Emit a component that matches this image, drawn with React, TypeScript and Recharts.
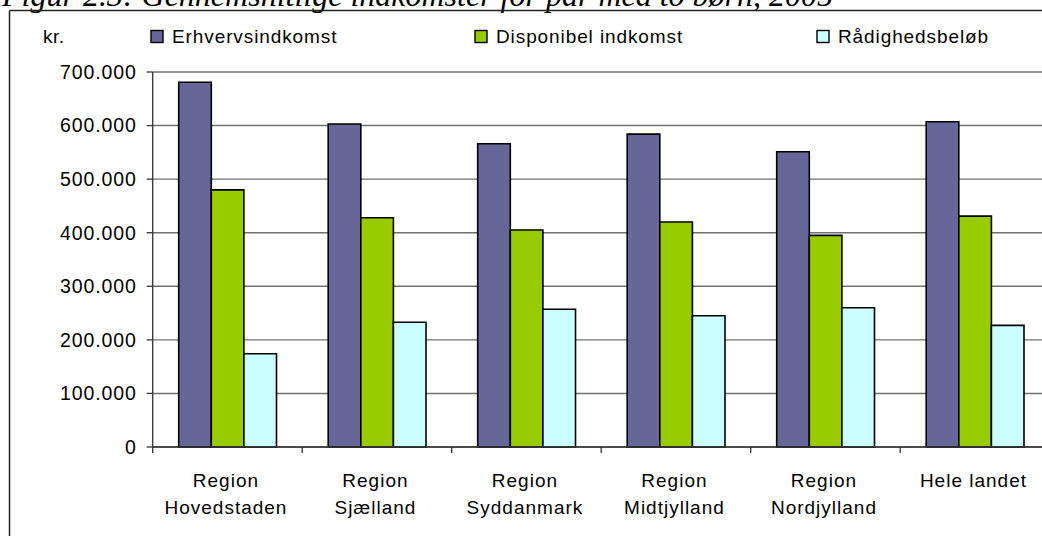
import React from 'react';
import { BarChart, Bar, XAxis, YAxis, CartesianGrid } from 'recharts';

// ── data ─────────────────────────────────────────────────────────────
const regions = [
  'Region Hovedstaden',
  'Region Sjælland',
  'Region Syddanmark',
  'Region Midtjylland',
  'Region Nordjylland',
  'Hele landet',
];
const erhvervsindkomst = [681000, 603000, 566000, 584000, 551000, 607000];
const disponibelIndkomst = [480000, 428000, 405000, 420000, 395000, 431000];
const raadighedsbeloeb = [174000, 233000, 257000, 245000, 260000, 227000];
const yTicks = [0, 100000, 200000, 300000, 400000, 500000, 600000, 700000];

const series = [
  { key: 'erhverv', name: 'Erhvervsindkomst', color: '#666699', legendX: 151 },
  { key: 'disp', name: 'Disponibel indkomst', color: '#99CC00', legendX: 475 },
  { key: 'raad', name: 'Rådighedsbeløb', color: '#CCFFFF', legendX: 817 },
];

const data = regions.map((name, i) => ({
  name,
  erhverv: erhvervsindkomst[i],
  disp: disponibelIndkomst[i],
  raad: raadighedsbeloeb[i],
}));

// ── layout ───────────────────────────────────────────────────────────
const CHART_W = 1100;
const CHART_H = 536;
const PLOT_LEFT = 152.7;
const PLOT_RIGHT_MARGIN = 50.3;
const PLOT_W = CHART_W - PLOT_LEFT - PLOT_RIGHT_MARGIN;
const BAND = PLOT_W / regions.length;

const FONT = '"Liberation Sans", Arial, sans-serif';

const fmt = (v: number) => String(v).replace(/\B(?=(\d{3})+(?!\d))/g, '.');

function CategoryTick(props: any) {
  const { x, y, payload } = props;
  const label: string = payload.value;
  const lines = label.startsWith('Region ') ? ['Region', label.slice(7)] : [label];
  const bx = x - BAND / 2;
  return (
    <g>
      <line x1={bx} y1={y} x2={bx} y2={y + 6} stroke="#333" strokeWidth={1.3} />
      {lines.map((l, i) => (
        <text
          key={i}
          x={x - 1.5}
          y={y + 39.7 + i * 27.6}
          textAnchor="middle"
          fill="#000"
          style={{ fontFamily: FONT, fontSize: 19, letterSpacing: 1 }}
        >
          {l}
        </text>
      ))}
    </g>
  );
}

export default function App() {
  return (
    <div
      style={{
        position: 'fixed',
        left: 0,
        top: 0,
        width: 1042,
        height: 536,
        overflow: 'hidden',
        background: '#fff',
      }}
    >
      <div style={{ position: 'absolute', left: 0, top: 0 }}>
        <BarChart
          width={CHART_W}
          height={CHART_H}
          data={data}
          margin={{ top: 72, right: PLOT_RIGHT_MARGIN, left: 0, bottom: 29 }}
          barGap={0}
          barSize={32.6}
        >
          <CartesianGrid
            horizontal
            vertical={false}
            stroke="#707070"
            strokeWidth={1.4}
          />
          <XAxis
            dataKey="name"
            height={60}
            axisLine={{ stroke: '#333', strokeWidth: 1.3 }}
            tickLine={false}
            tickSize={0}
            tickMargin={0}
            interval={0}
            tick={<CategoryTick />}
          />
          <YAxis
            width={PLOT_LEFT}
            domain={[0, 700000]}
            ticks={yTicks}
            interval={0}
            tickFormatter={fmt}
            axisLine={{ stroke: '#333', strokeWidth: 1.3 }}
            tickLine={{ stroke: '#333', strokeWidth: 1.3 }}
            tickSize={6}
            tickMargin={10}
            tick={{ fill: '#000', fontSize: 19.5, fontFamily: FONT, letterSpacing: 0.9 }}
          />
          {series.map((s) => (
            <Bar
              key={s.key}
              dataKey={s.key}
              name={s.name}
              fill={s.color}
              stroke="#000"
              strokeWidth={1.6}
              isAnimationActive={false}
            />
          ))}
        </BarChart>
      </div>

      {/* frame, cut-off title, unit and legend */}
      <svg
        width={1042}
        height={536}
        style={{ position: 'absolute', left: 0, top: 0, pointerEvents: 'none' }}
      >
        <text
          x={2}
          y={6}
          style={{
            fontFamily: '"Liberation Serif", "Times New Roman", serif',
            fontStyle: 'italic',
            fontSize: 32,
          }}
          fill="#000"
        >
          Figur 2.3: Gennemsnitlige indkomster for par med to børn, 2005
        </text>
        <line x1={9.5} y1={10.5} x2={1042} y2={10.5} stroke="#222" strokeWidth={1.5} />
        <line x1={9.5} y1={10.5} x2={9.5} y2={536} stroke="#222" strokeWidth={1.5} />
        <text
          x={43}
          y={43}
          fill="#000"
          style={{ fontFamily: FONT, fontSize: 19, letterSpacing: 0.5 }}
        >
          kr.
        </text>
        {series.map((s) => (
          <g key={s.key}>
            <rect
              x={s.legendX}
              y={30.5}
              width={12}
              height={12}
              fill={s.color}
              stroke="#000"
              strokeWidth={1.4}
            />
            <text
              x={s.legendX + 21}
              y={43}
              fill="#000"
              style={{ fontFamily: FONT, fontSize: 19, letterSpacing: 0.9 }}
            >
              {s.name}
            </text>
          </g>
        ))}
      </svg>
    </div>
  );
}
